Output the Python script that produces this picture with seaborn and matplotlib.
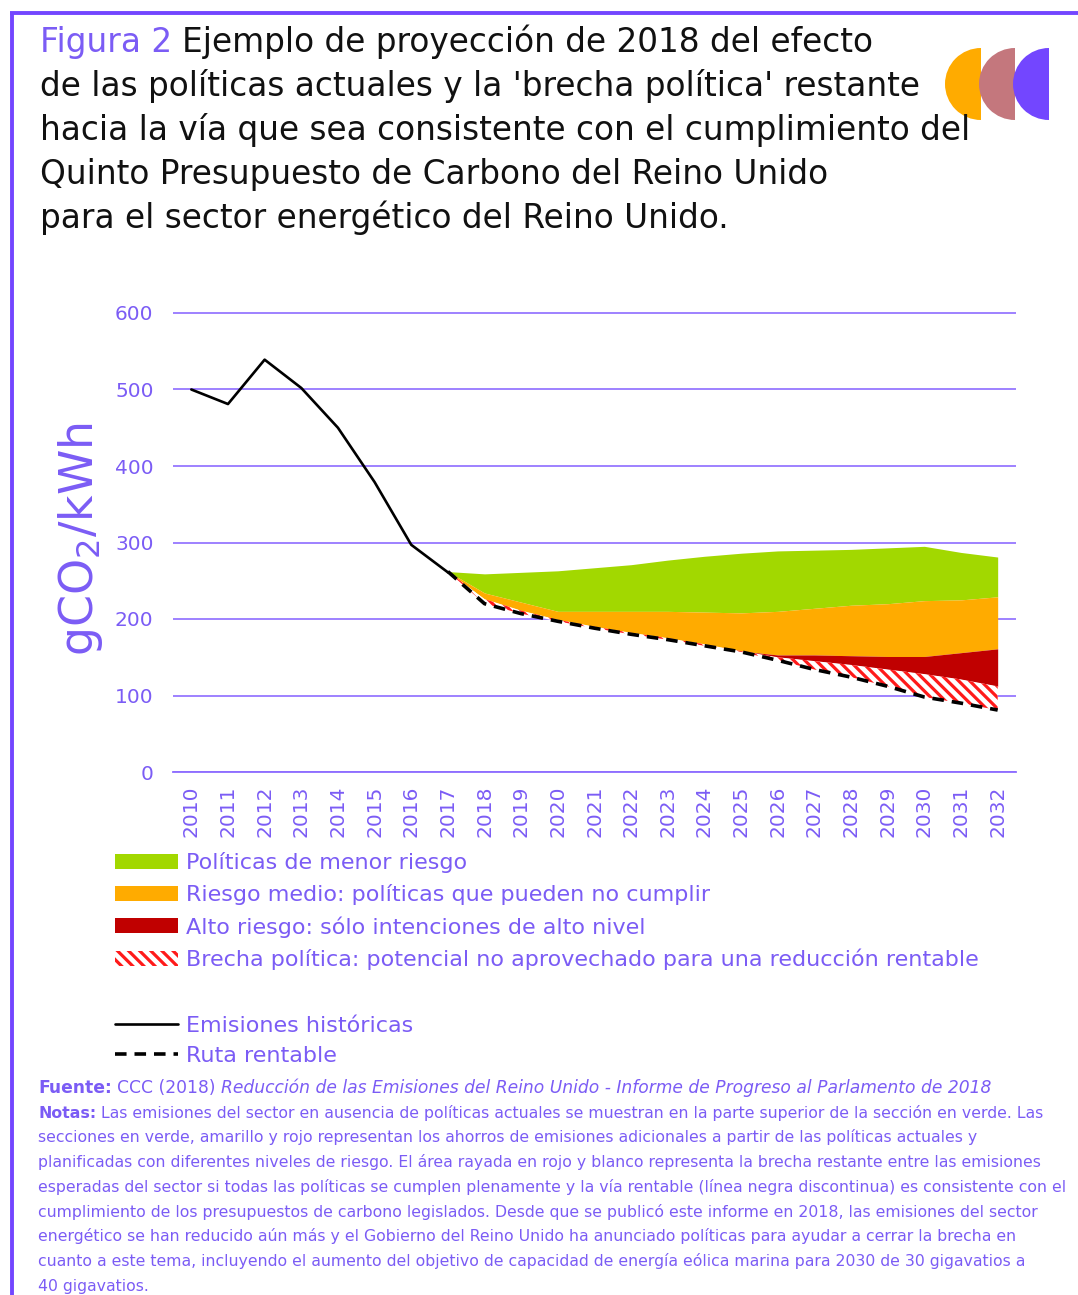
import numpy as np
import pandas as pd
import matplotlib
matplotlib.use('Agg')
import matplotlib.pyplot as plt
from matplotlib.patches import Wedge, Patch
from matplotlib.lines import Line2D
import seaborn as sns

# historic emissions, gCO2/kWh
years_hist = [2010, 2011, 2012, 2013, 2014, 2015, 2016, 2017]
emis_hist = [500, 481, 539, 502, 450, 379, 297, 261]

# projection 2017-2032 (band edges, top to bottom)
years_proj = list(range(2017, 2033))
sin_politicas = [262, 259, 261, 263, 267, 271, 277, 282, 286, 289, 290, 291, 293, 295, 287, 281]
borde_verde = [262, 234, 222, 210, 210, 210, 210, 209, 208, 210, 214, 218, 220, 224, 225, 229]
borde_naranja = [262, 226, 211, 199, 190, 182, 175, 167, 158, 153, 153, 152, 151, 151, 156, 161]
borde_rojo = [262, 226, 211, 199, 190, 182, 175, 167, 158, 150, 145, 140, 134, 128, 121, 112]
ruta_rentable = [262, 220, 207, 197, 188, 180, 173, 165, 157, 146, 134, 124, 112, 98, 90, 81]

yticks = [0, 100, 200, 300, 400, 500, 600]

labels_areas = ['Políticas de menor riesgo',
                'Riesgo medio: políticas que pueden no cumplir',
                'Alto riesgo: sólo intenciones de alto nivel',
                'Brecha política: potencial no aprovechado para una reducción rentable']
labels_lineas = ['Emisiones históricas', 'Ruta rentable']

title_lines = ['Ejemplo de proyección de 2018 del efecto',
               "de las políticas actuales y la 'brecha política' restante",
               'hacia la vía que sea consistente con el cumplimiento del',
               'Quinto Presupuesto de Carbono del Reino Unido',
               'para el sector energético del Reino Unido.']

fuente_it = 'Reducción de las Emisiones del Reino Unido - Informe de Progreso al Parlamento de 2018'
notas = ['Las emisiones del sector en ausencia de políticas actuales se muestran en la parte superior de la sección en verde. Las',
         'secciones en verde, amarillo y rojo representan los ahorros de emisiones adicionales a partir de las políticas actuales y',
         'planificadas con diferentes niveles de riesgo. El área rayada en rojo y blanco representa la brecha restante entre las emisiones',
         'esperadas del sector si todas las políticas se cumplen plenamente y la vía rentable (línea negra discontinua) es consistente con el',
         'cumplimiento de los presupuestos de carbono legislados. Desde que se publicó este informe en 2018, las emisiones del sector',
         'energético se han reducido aún más y el Gobierno del Reino Unido ha anunciado políticas para ayudar a cerrar la brecha en',
         'cuanto a este tema, incluyendo el aumento del objetivo de capacidad de energía eólica marina para 2030 de 30 gigavatios a',
         '40 gigavatios.']

PURPLE = '#7b5cf5'
GRID = '#8d6cff'
BORDER = '#7346ff'
GREEN = '#a2d800'
ORANGE = '#ffab00'
DARKRED = '#c00000'
RED = '#ff1a1a'
HATCH = '\\\\\\'

sns.set_theme(style='white')
plt.rcParams['font.family'] = ['DejaVu Sans']
plt.rcParams['hatch.linewidth'] = 2.3

fig = plt.figure(figsize=(10.78, 12.95), dpi=100)
W, H = 1078, 1295

# background axes in pixel coords for text, border and logo
bg = fig.add_axes([0, 0, 1, 1])
bg.set_xlim(0, W)
bg.set_ylim(H, 0)
bg.axis('off')
renderer = fig.canvas.get_renderer()


def width_of(s, size, **kw):
    t = bg.text(0, 0, s, fontsize=size, **kw)
    w = t.get_window_extent(renderer).width
    t.remove()
    return w


def fit(s, target, **kw):
    return 10 * target / width_of(s, 10, **kw)


def runs(x, y, parts, size):
    gap = width_of('a a', size) - width_of('aa', size)
    for txt, kw in parts:
        t = bg.text(x, y, txt, fontsize=size, va='baseline', **kw)
        x += t.get_window_extent(renderer).width + gap


# border
bg.plot([12, 12], [12, H], color=BORDER, lw=2.8, solid_capstyle='butt')
bg.plot([10, W], [13, 13], color=BORDER, lw=2.8, solid_capstyle='butt')

# logo: three left half-discs
for cx, col in zip([981, 1015, 1049], [ORANGE, '#c4777d', BORDER]):
    bg.add_patch(Wedge((cx, 84), 36, 90, 270, facecolor=col, edgecolor='none'))

# title
ts = fit(title_lines[1], 882)
runs(40, 52, [('Figura 2', dict(color=PURPLE)), (title_lines[0], dict(color='#111111'))], ts)
for i, line in enumerate(title_lines[1:], start=1):
    bg.text(40, 52 + 44 * i, line, fontsize=ts, color='#111111', va='baseline')

# chart
ax = fig.add_axes([173 / W, 1 - 772 / H, 843 / W, 610 * 0.765 / H])
ax.set_facecolor('none')

ax.fill_between(years_proj, borde_verde, sin_politicas, color=GREEN, lw=0, zorder=2)
ax.fill_between(years_proj, borde_naranja, borde_verde, color=ORANGE, lw=0, zorder=2)
ax.fill_between(years_proj, borde_rojo, borde_naranja, color=DARKRED, lw=0, zorder=2)
ax.fill_between(years_proj, ruta_rentable, borde_rojo, facecolor='white', edgecolor=RED,
                hatch=HATCH, lw=0, zorder=2)

hist = pd.DataFrame({'año': years_hist, 'emisiones': emis_hist})
ruta = pd.DataFrame({'año': years_proj, 'emisiones': ruta_rentable})
sns.lineplot(data=ruta, x='año', y='emisiones', color='black', lw=2.6, ax=ax, zorder=4)
ax.lines[-1].set_dashes([3.2, 2.2])
sns.lineplot(data=hist, x='año', y='emisiones', color='black', lw=1.9, ax=ax, zorder=5)

all_years = list(range(years_hist[0], years_proj[-1] + 1))
ax.set_xlim(all_years[0] - 0.5, all_years[-1] + 0.5)
ax.set_ylim(0, 610)
ax.set_xticks([y - 0.5 for y in all_years] + [all_years[-1] + 0.5])
ax.set_xticks(all_years, minor=True)
ax.set_xticklabels([str(y) for y in all_years], minor=True, rotation=90)
ax.tick_params(axis='x', which='major', length=7, width=1.3, color=GRID, labelbottom=False, direction='out')
ax.tick_params(axis='x', which='minor', length=0, pad=10, labelsize=14.5, labelcolor=PURPLE)
ax.set_yticks(yticks)
ax.set_yticklabels([str(v) for v in yticks])
ax.tick_params(axis='y', length=0, pad=14, labelsize=14.5, labelcolor=PURPLE)
ax.grid(axis='y', color=GRID, lw=1.2)
ax.set_axisbelow(True)
for s in ['left', 'top', 'right']:
    ax.spines[s].set_visible(False)
ax.spines['bottom'].set_color(GRID)
ax.spines['bottom'].set_linewidth(1.3)
ax.set_xlabel('')
ax.set_ylabel('gCO$_2$/kWh', fontsize=33, color=PURPLE)
ax.yaxis.set_label_coords(-0.081, 0.5)

# legends
ls = fit(labels_areas[3], 792)
hl = 63 / (ls * 1.389)
handles_a = [Patch(facecolor=GREEN, lw=0), Patch(facecolor=ORANGE, lw=0),
             Patch(facecolor=DARKRED, lw=0),
             Patch(facecolor='white', edgecolor=RED, hatch=HATCH, lw=0)]
fig.legend(handles_a, labels_areas, loc='upper left', bbox_to_anchor=(115 / W, 1 - 852 / H),
           frameon=False, borderpad=0, borderaxespad=0, fontsize=ls, labelcolor=PURPLE,
           handlelength=hl, handleheight=0.65, handletextpad=0.35, labelspacing=0.5)
handles_l = [Line2D([], [], color='black', lw=1.9),
             Line2D([], [], color='black', lw=2.6, dashes=[3.2, 2.2])]
fig.legend(handles_l, labels_lineas, loc='upper left', bbox_to_anchor=(115 / W, 1 - 1016 / H),
           frameon=False, borderpad=0, borderaxespad=0, fontsize=ls, labelcolor=PURPLE,
           handlelength=hl, handletextpad=0.35, labelspacing=0.45)

# source and notes
ns = fit(notas[3], 1030)
y0 = 1093
runs(38, y0, [('Fuente:', dict(color=PURPLE, fontweight='bold')),
              ('CCC (2018)', dict(color=PURPLE)),
              (fuente_it, dict(color=PURPLE, fontstyle='italic'))], ns * 1.09)
runs(38, y0 + 24.7, [('Notas:', dict(color=PURPLE, fontweight='bold')),
                     (notas[0], dict(color=PURPLE))], ns)
for i, line in enumerate(notas[1:], start=2):
    bg.text(38, y0 + 24.7 * i, line, fontsize=ns, color=PURPLE, va='baseline')

fig.savefig('out.png', dpi=100)
